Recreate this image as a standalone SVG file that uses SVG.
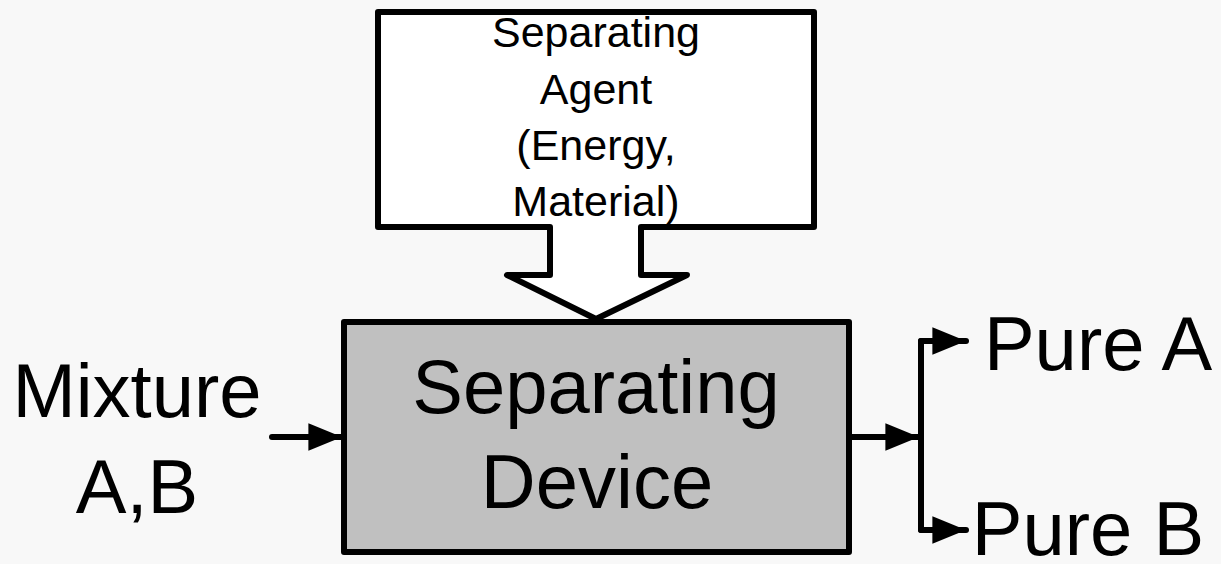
<svg xmlns="http://www.w3.org/2000/svg" width="1221" height="564" viewBox="0 0 1221 564">
  <style>
    .label { font-family: "Liberation Sans", Arial, sans-serif; fill: #000; text-anchor: middle; }
    .big { font-size: 76px; }
    .small { font-size: 43px; }
    .line { stroke: #000; stroke-width: 6; fill: none; stroke-linecap: round; stroke-linejoin: round; }
  </style>
  <defs>
    <marker id="head" viewBox="0 0 10 10" refX="10" refY="5" markerWidth="5.6" markerHeight="4.6" markerUnits="strokeWidth" orient="auto" preserveAspectRatio="none">
      <path d="M0,0 L10,5 L0,10 Z" fill="#000"/>
    </marker>
  </defs>
  <rect width="1221" height="564" fill="#f8f8f8"/>

  <!-- separating agent: box with a block arrow pointing down -->
  <g id="agent">
    <path d="M378,12 H814 V227 H641 V275 H687 L596,319 L507,275 H550 V227 H378 Z" fill="#fff" stroke="#000" stroke-width="6" stroke-linejoin="round"/>
    <text class="label small" x="596" y="47">Separating</text>
    <text class="label small" x="596" y="104">Agent</text>
    <text class="label small" x="596" y="160">(Energy,</text>
    <text class="label small" x="596" y="216">Material)</text>
  </g>

  <!-- separating device -->
  <g id="device">
    <rect x="344" y="322" width="505" height="230" fill="#c0c0c0" stroke="#000" stroke-width="6" stroke-linejoin="round"/>
    <text class="label big" x="596" y="413">Separating</text>
    <text class="label big" x="597" y="508">Device</text>
  </g>

  <g id="feed">
    <text class="label big" x="137" y="417">Mixture</text>
    <text class="label big" x="137" y="513">A,B</text>
  </g>

  <g id="productA">
    <text class="label big" x="1098" y="370">Pure A</text>
  </g>

  <g id="productB">
    <text class="label big" x="1088" y="555">Pure B</text>
  </g>

  <!-- flow lines -->
  <g id="connectors">
    <line class="line" x1="272" y1="437" x2="342" y2="437" marker-end="url(#head)"/>
    <line class="line" x1="852" y1="437" x2="919" y2="437" marker-end="url(#head)"/>
    <line class="line" x1="921" y1="341" x2="921" y2="530"/>
    <line class="line" x1="921" y1="341" x2="966" y2="341" marker-end="url(#head)"/>
    <line class="line" x1="921" y1="530" x2="966" y2="530" marker-end="url(#head)"/>
  </g>
</svg>
